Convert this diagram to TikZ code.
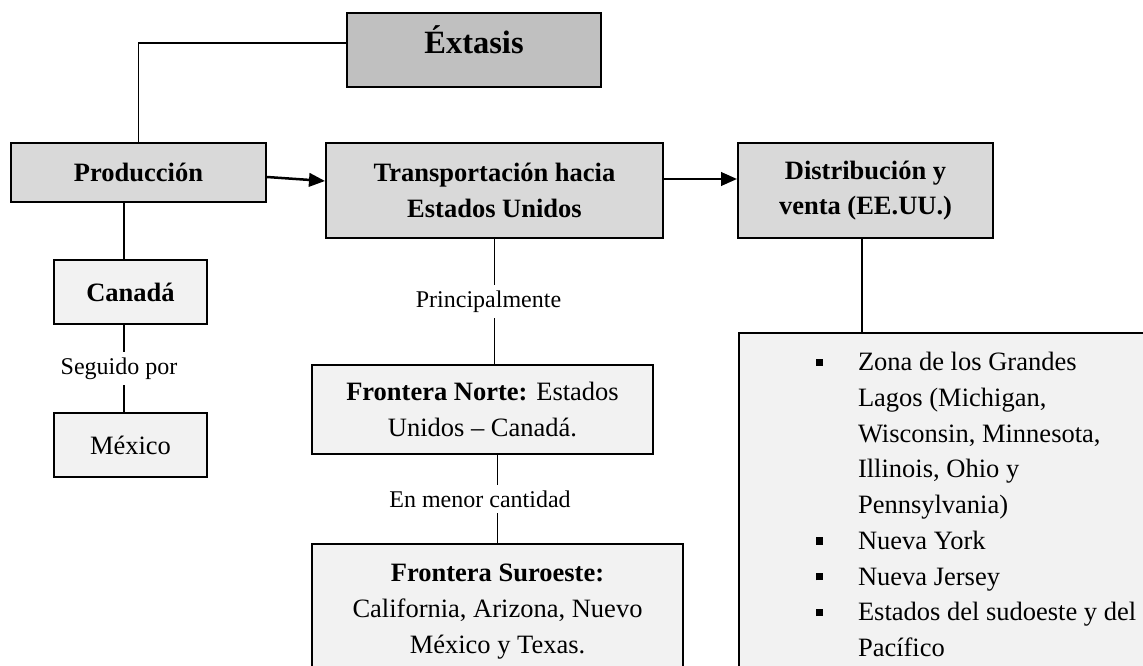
\documentclass[tikz,border=0pt]{standalone}
\usepackage{fontspec}
\setmainfont{Liberation Serif}
\usepackage{tikz}
\usetikzlibrary{arrows.meta}
\definecolor{grisTitulo}{HTML}{C0C0C0}
\definecolor{grisEtapa}{HTML}{D9D9D9}
\definecolor{grisDetalle}{HTML}{F2F2F2}
\newcommand{\texto}{\fontsize{10.6}{14.3}\selectfont}
\newcommand{\cuadro}{\llap{\rule[1.9pt]{2.9pt}{2.9pt}\hspace{14pt}}}

\begin{document}
\begin{tikzpicture}[
  x=0.4pt, y=-0.4pt,
  etapa/.style={draw, line width=0.8pt, fill=grisEtapa, align=center,
    inner sep=0pt, font=\texto\bfseries},
  detalle/.style={draw, line width=0.8pt, fill=grisDetalle, align=center,
    inner sep=0pt, font=\texto},
  nota/.style={fill=white, inner xsep=1pt, inner ysep=2.3pt,
    font=\fontsize{9.6}{12}\selectfont},
  enlace/.style={line width=0.6pt},
  flecha/.style={line width=1pt, -{Triangle[length=6.4pt,width=5.4pt]}}
]
  \useasboundingbox (0,0) rectangle (1143,665);
  \clip (0,0) rectangle (1143,665);

  \node[etapa, fill=grisTitulo, minimum width=101.6pt, minimum height=29.6pt,
    text depth=8pt, font=\fontsize{13}{15}\selectfont\bfseries] (extasis)
    at (474,50) {Éxtasis};
  \node[etapa, minimum width=102pt, minimum height=23.6pt] (prod)
    at (138.5,172.5) {Producción};
  \node[etapa, minimum width=134.8pt, minimum height=38pt] (transp)
    at (494.5,190.5) {Transportación hacia\\Estados Unidos};
  \node[etapa, minimum width=102pt, minimum height=38pt] (distrib)
    at (865.5,190.5) {Distribución y\\venta (EE.UU.)};
  \node[detalle, minimum width=61.2pt, minimum height=25.6pt,
    font=\texto\bfseries] (canada) at (130.5,292) {Canadá};
  \node[detalle, minimum width=61.2pt, minimum height=25.6pt] (mexico)
    at (130.5,445) {México};
  \node[detalle, minimum width=136.4pt, minimum height=35.6pt] (norte)
    at (482.5,409.5) {\textbf{Frontera Norte:} Estados\\Unidos – Canadá.};
  \node[detalle, anchor=north, minimum width=148.4pt, inner ysep=8pt] (suroeste)
    at (497.5,543) {\textbf{Frontera Suroeste:}\\California, Arizona, Nuevo\\México y Texas.};
  \node[detalle, anchor=north west, align=left, inner xsep=47.6pt,
    inner ysep=7.7pt] (zonas) at (738,332)
    {\cuadro Zona de los Grandes\\Lagos (Michigan,\\Wisconsin, Minnesota,\\Illinois, Ohio y\\Pennsylvania)\\
     \cuadro Nueva York\\\cuadro Nueva Jersey\\\cuadro Estados del sudoeste y del\\Pacífico};

  \draw[enlace] ([yshift=2.8pt]extasis.west) -| (prod.north);
  \draw[flecha] ([yshift=-1.8pt]prod.east) -- ([yshift=3.8pt]transp.west);
  \draw[flecha] ([yshift=4.6pt]transp.east) -- ([yshift=4.6pt]distrib.west);
  \draw[enlace] ([xshift=-2.6pt]canada.north |- prod.south) -- ([xshift=-2.6pt]canada.north);
  \draw[enlace] ([xshift=-2.6pt]canada.south) -- node[nota, xshift=-2pt] {Seguido por}
    ([xshift=-2.6pt]mexico.north);
  \draw[enlace] (transp.south) -- node[nota, xshift=-2.4pt] {Principalmente}
    (transp.south |- norte.north);
  \draw[enlace] (suroeste.north |- norte.south) -- node[nota, xshift=-7pt] {En menor cantidad}
    (suroeste.north);
  \draw[enlace] ([xshift=-1.4pt]distrib.south) -- ([xshift=-1.4pt]distrib.south |- zonas.north);
\end{tikzpicture}
\end{document}
